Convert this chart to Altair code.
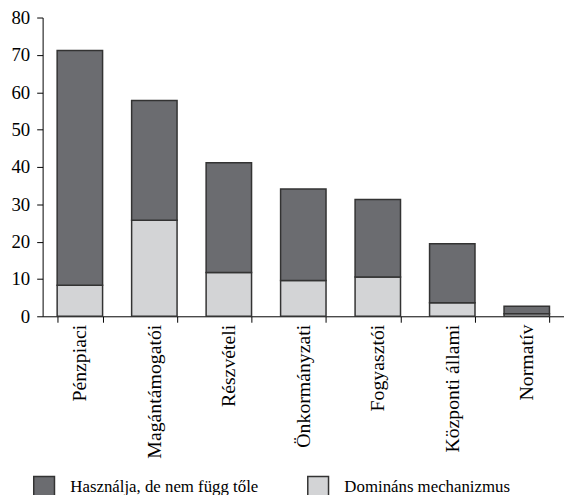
import altair as alt
import pandas as pd

categories = ["Pénzpiaci", "Magántámogatói", "Részvételi", "Önkormányzati",
              "Fogyasztói", "Központi állami", "Normatív"]
dominant = [8.3, 25.7, 11.7, 9.6, 10.5, 3.6, 0.7]
uses = [62.9, 32.1, 29.4, 24.5, 20.8, 15.8, 2.0]
series = ["Használja, de nem függ tőle", "Domináns mechanizmus"]
colors = ["#6b6c70", "#d3d4d6"]

rows = []
for c, d, u in zip(categories, dominant, uses):
    rows.append({"cat": c, "series": series[1], "value": d, "ord": 0})
    rows.append({"cat": c, "series": series[0], "value": u, "ord": 1})
df = pd.DataFrame(rows)

FONT = "Liberation Serif"

chart = alt.Chart(df).mark_bar(stroke="#333333", strokeWidth=1.5).encode(
    x=alt.X("cat:N", sort=categories, title=None,
            scale=alt.Scale(paddingInner=0.39, paddingOuter=0.195),
            axis=alt.Axis(labelAngle=-90, tickBand="extent", labelFontSize=20,
                          labelFont=FONT, labelColor="black", domainColor="black",
                          tickColor="black", tickSize=6, labelPadding=2,
                          labelLimit=300)),
    y=alt.Y("value:Q", stack="zero", title=None,
            scale=alt.Scale(domain=[0, 80], nice=False),
            axis=alt.Axis(values=list(range(0, 81, 10)), grid=False, labelFontSize=19,
                          labelFont=FONT, labelColor="black", domainColor="black",
                          tickColor="black", tickSize=6, labelPadding=7)),
    color=alt.Color("series:N", sort=series,
                    scale=alt.Scale(domain=series, range=colors),
                    legend=alt.Legend(title=None, orient="none", legendX=-10, legendY=463,
                                      direction="horizontal", columns=2,
                                      symbolType="square", symbolSize=440,
                                      symbolStrokeColor="#333333", symbolStrokeWidth=1.5,
                                      symbolOpacity=1, labelFont=FONT, labelFontSize=17,
                                      labelColor="black", labelOffset=15,
                                      columnPadding=46, labelLimit=400)),
    order=alt.Order("ord:Q"),
).properties(
    width=527, height=302,
    autosize=alt.AutoSizeParams(type="none"),
    padding={"left": 35, "top": 7, "right": 0, "bottom": 178},
).configure_view(stroke=None)

chart.save("out.html", embed_options={"renderer": "svg", "actions": False})
